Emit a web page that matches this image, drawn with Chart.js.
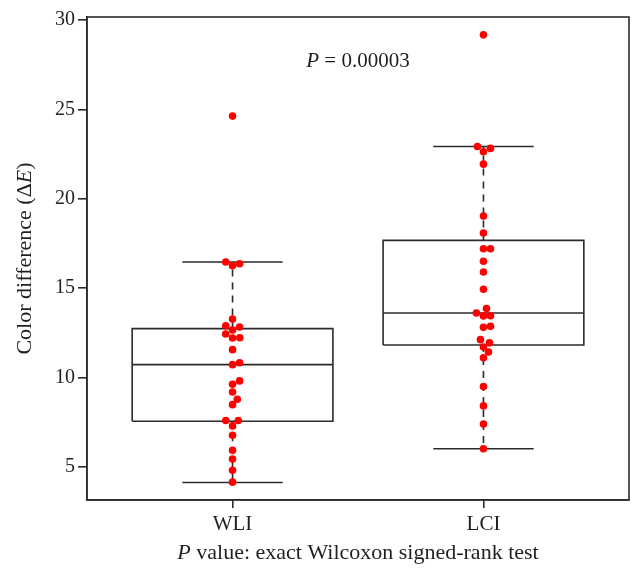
<!DOCTYPE html>
<html lang="en">
<head>
  <meta charset="UTF-8">
  <title>Color difference WLI vs LCI</title>
  <style>
    body { margin: 0; background: #fff; }
    #wrap { width: 643px; height: 586px; }
  </style>
</head>
<body>
  <div id="wrap"><canvas id="boxChart"></canvas></div>

  <script src="https://cdn.jsdelivr.net/npm/chart.js"></script>
  <script>
    // groups on the x axis
    const groups = ['WLI', 'LCI'];
    const yTicks = [5, 10, 15, 20, 25, 30];

    const wliValues = [24.63, 16.46, 16.25, 16.36, 13.27, 12.89, 12.82, 12.65, 12.43, 12.20, 12.22, 11.55, 10.71,
      10.82, 9.80, 9.61, 9.18, 8.77, 8.47, 7.58, 7.58, 7.28, 6.76, 5.92, 5.42, 4.80, 4.13];
    const wliOffsets = [0, -0.027, 0, 0.028, 0, -0.027, 0.028, 0, -0.027, 0, 0.029, 0, 0,
      0.028, 0.028, 0, 0, 0.019, 0, -0.027, 0.023, 0, 0, 0, 0, 0, 0];
    const lciValues = [29.18, 22.93, 22.82, 22.63, 21.94, 19.03, 18.08, 17.20, 17.20, 16.50, 15.90, 14.93, 13.85,
      13.60, 13.44, 13.45, 12.80, 12.86, 12.11, 11.93, 11.70, 11.42, 11.09, 9.48, 8.40, 7.38, 6.00];
    const lciOffsets = [0, -0.024, 0.028, 0, 0, 0, 0, 0, 0.028, 0, 0, 0, 0.012,
      -0.028, 0, 0.028, 0, 0.028, -0.012, 0.024, 0, 0.02, 0, 0, 0, 0, 0];

    // box statistics: lower whisker, Q1, median, Q3, upper whisker
    const boxLow = [4.11, 6.00];
    const boxQ1 = [7.54, 11.81];
    const boxMedian = [10.71, 13.60];
    const boxQ3 = [12.73, 17.67];
    const boxHigh = [16.46, 22.93];

    const pText = [['P', 'italic'], [' = 0.00003', 'normal']];
    const yTitle = [['Color difference (Δ', 'normal'], ['E', 'italic'], [')', 'normal']];
    const xTitle = [['P', 'italic'], [' value: exact Wilcoxon signed-rank test', 'normal']];

    const FONT = '"Liberation Serif", "Times New Roman", serif';
    const INK = '#231f20';
    const LINE = '#2b2b2b';
    const HALF = 0.4;   // half box width in axis units
    const CAP = 0.2;    // half whisker cap width

    const datasets = [];

    // points on top
    [[wliValues, wliOffsets], [lciValues, lciOffsets]].forEach(([vals, offs], g) => {
      datasets.push({
        type: 'scatter',
        data: vals.map((v, i) => ({ x: g + 1 + offs[i], y: v })),
        backgroundColor: '#ff0000',
        borderWidth: 0,
        pointRadius: 3.8,
        order: 0
      });
    });

    function lineSet(points, dash) {
      return {
        type: 'line',
        data: points,
        borderColor: LINE,
        borderWidth: 1.6,
        borderDash: dash || [],
        pointRadius: 0,
        fill: false,
        tension: 0,
        order: 1
      };
    }

    groups.forEach((name, g) => {
      const c = g + 1;
      datasets.push(lineSet([
        { x: c - HALF, y: boxQ1[g] }, { x: c + HALF, y: boxQ1[g] },
        { x: c + HALF, y: boxQ3[g] }, { x: c - HALF, y: boxQ3[g] },
        { x: c - HALF, y: boxQ1[g] }
      ]));
      datasets.push(lineSet([{ x: c - HALF, y: boxMedian[g] }, { x: c + HALF, y: boxMedian[g] }]));
      datasets.push(lineSet([{ x: c, y: boxQ3[g] }, { x: c, y: boxHigh[g] }], [7, 6]));
      datasets.push(lineSet([{ x: c, y: boxQ1[g] }, { x: c, y: boxLow[g] }], [7, 6]));
      datasets.push(lineSet([{ x: c - CAP, y: boxHigh[g] }, { x: c + CAP, y: boxHigh[g] }]));
      datasets.push(lineSet([{ x: c - CAP, y: boxLow[g] }, { x: c + CAP, y: boxLow[g] }]));
    });

    function drawRich(ctx, parts, x, y, size) {
      ctx.textBaseline = 'middle';
      ctx.textAlign = 'left';
      let total = 0;
      parts.forEach(([t, st]) => { ctx.font = st + ' ' + size + 'px ' + FONT; total += ctx.measureText(t).width; });
      let cx = x - total / 2;
      parts.forEach(([t, st]) => {
        ctx.font = st + ' ' + size + 'px ' + FONT;
        ctx.fillText(t, cx, y);
        cx += ctx.measureText(t).width;
      });
    }

    const framePlugin = {
      id: 'frame',
      afterDraw(chart) {
        const { ctx, chartArea: a, scales } = chart;
        ctx.save();
        ctx.strokeStyle = LINE;
        ctx.lineWidth = 1.6;
        ctx.strokeRect(a.left, a.top, a.right - a.left, a.bottom - a.top);
        ctx.fillStyle = INK;
        drawRich(ctx, pText, scales.x.getPixelForValue(1.5), scales.y.getPixelForValue(27.67), 21);
        drawRich(ctx, xTitle, (a.left + a.right) / 2, a.bottom + 53, 22);
        ctx.translate(25, (a.top + a.bottom) / 2);
        ctx.rotate(-Math.PI / 2);
        drawRich(ctx, yTitle, 0, 0, 22);
        ctx.restore();
      }
    };

    new Chart(document.getElementById('boxChart'), {
      data: { datasets },
      options: {
        responsive: true,
        maintainAspectRatio: false,
        animation: false,
        layout: { padding: { top: 17, right: 14, left: 0, bottom: 0 } },
        plugins: { legend: { display: false }, tooltip: { enabled: false } },
        scales: {
          x: {
            type: 'linear',
            min: 0.42,
            max: 2.58,
            afterBuildTicks: s => { s.ticks = groups.map((_, i) => ({ value: i + 1 })); },
            afterFit: s => { s.height = 86; },
            ticks: {
              callback: v => groups[v - 1],
              color: INK,
              font: { family: FONT, size: 21 },
              padding: 4,
              maxRotation: 0
            },
            grid: { drawOnChartArea: false, tickLength: 8, color: LINE, lineWidth: 1.6 },
            border: { color: LINE, width: 1.6 }
          },
          y: {
            type: 'linear',
            min: 3.13,
            max: 30.18,
            afterBuildTicks: s => { s.ticks = yTicks.map(v => ({ value: v })); },
            afterFit: s => { s.width = 87; },
            ticks: {
              color: INK,
              font: { family: FONT, size: 20 },
              padding: 3
            },
            grid: { drawOnChartArea: false, tickLength: 9, color: LINE, lineWidth: 1.6 },
            border: { color: LINE, width: 1.6 }
          }
        }
      },
      plugins: [framePlugin]
    });
  </script>
</body>
</html>
